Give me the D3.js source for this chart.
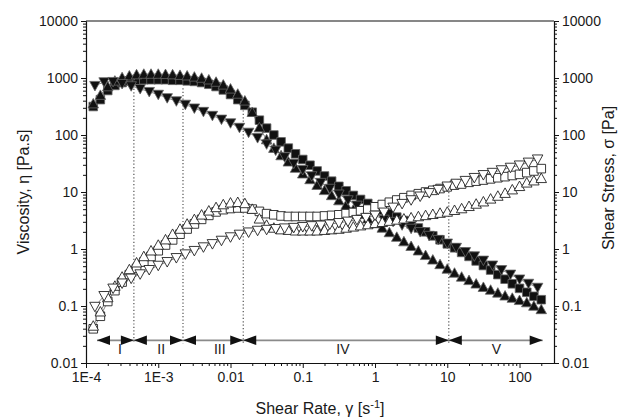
<!DOCTYPE html>
<html><head><meta charset="utf-8">
<script src="https://cdn.jsdelivr.net/npm/d3@7"></script>
<style>
body{margin:0;background:#fff}
svg{display:block}
text{font-family:"Liberation Sans",Arial,Helvetica,sans-serif;fill:#1a1a1a}
</style>
</head><body>
<svg id="chart" width="629" height="419"></svg>
<script>
// ---------- data ----------
const shearA = [1.26e-4,1.58e-4,2.00e-4,2.51e-4,3.16e-4,3.98e-4,5.01e-4,6.31e-4,7.94e-4,
  1e-3,1.26e-3,1.58e-3,2.00e-3,2.51e-3,3.16e-3,3.98e-3,5.01e-3,6.31e-3,7.94e-3,
  0.01,0.0126,0.0158,0.02,0.0251,0.0316,0.0398,0.0501,0.0631,0.0794,
  0.1,0.126,0.158,0.2,0.251,0.316,0.398,0.501,0.631,0.794,
  1,1.26,1.58,2,2.51,3.16,3.98,5.01,6.31,7.94,
  10,12.6,15.8,20,25.1,31.6,39.8,50.1,63.1,79.4,
  100,126,158,200];
const shearC = [1.33e-4,1.78e-4,2.37e-4,3.16e-4,4.22e-4,5.62e-4,7.50e-4,
  1e-3,1.33e-3,1.78e-3,2.37e-3,3.16e-3,4.22e-3,5.62e-3,7.50e-3,
  0.01,0.0133,0.0178,0.0237,0.0316,0.0422,0.0562,0.075,
  0.1,0.133,0.178,0.237,0.316,0.422,0.562,0.75,
  1,1.33,1.78,2.37,3.16,4.22,5.62,7.5,
  10,13.3,17.8,23.7,31.6,42.2,56.2,75,
  100,133,178];

// viscosity (filled) and shear stress (open) for the three samples
const viscSquare = [316,417,603,741,832,891,912,933,933,
  933,933,912,912,891,871,832,776,708,617,
  513,417,331,251,182,132,100,75.9,58.9,46.8,
  37.2,29.5,23.4,19.1,15.5,12.6,10.5,8.71,7.41,6.31,
  5.50,4.79,4.17,3.63,3.16,2.75,2.34,2.00,1.70,1.45,
  1.23,1.05,0.871,0.741,0.617,0.513,0.427,0.355,0.295,0.245,
  0.204,0.174,0.148,0.129];
const stressSquare = [0.0398,0.0661,0.120,0.186,0.263,0.355,0.457,0.589,0.741,
  0.933,1.175,1.445,1.82,2.24,2.75,3.31,3.89,4.47,4.90,
  5.13,5.25,5.25,5.01,4.57,4.17,3.98,3.80,3.72,3.72,
  3.72,3.72,3.72,3.80,3.89,3.98,4.17,4.37,4.68,5.01,
  5.50,6.03,6.61,7.24,7.94,8.71,9.33,10.0,10.7,11.5,
  12.3,13.2,13.8,14.8,15.5,16.2,17.0,17.8,18.6,19.5,
  20.4,21.9,23.4,25.7];
const viscTriUp = [355,501,708,891,1023,1096,1148,1175,1175,
  1175,1161,1148,1122,1096,1047,1000,933,851,759,
  646,525,398,251,135,83.2,58.9,43.7,33.9,26.3,
  20.9,16.6,13.2,10.7,8.71,7.08,5.89,4.90,4.07,3.39,
  2.82,2.34,1.95,1.62,1.35,1.12,0.933,0.776,0.646,0.537,
  0.447,0.380,0.324,0.282,0.245,0.214,0.191,0.170,0.151,0.138,
  0.126,0.115,0.100,0.0871];
const stressTriUp = [0.0447,0.0794,0.141,0.224,0.324,0.437,0.575,0.741,0.933,
  1.175,1.46,1.82,2.24,2.75,3.31,3.98,4.68,5.37,6.03,
  6.46,6.61,6.31,5.01,3.39,2.63,2.34,2.19,2.14,2.09,
  2.09,2.09,2.09,2.14,2.19,2.24,2.34,2.45,2.57,2.69,
  2.82,2.95,3.09,3.24,3.39,3.55,3.72,3.89,4.07,4.27,
  4.47,4.79,5.13,5.62,6.17,6.76,7.59,8.51,9.55,11.0,
  12.6,14.5,15.8,17.4];
const viscTriDown = [733,851,861,794,724,646,575,
  513,447,394,343,295,257,219,188,
  162,135,111,89.1,69.2,53.7,41.2,31.6,
  24.5,19.1,14.6,11.5,9.12,7.24,5.82,4.73,
  3.89,3.30,3.02,2.63,2.29,2.00,1.72,1.46,
  1.26,1.06,0.891,0.750,0.631,0.519,0.431,0.359,
  0.295,0.248,0.211];
const stressTriDown = [0.0977,0.151,0.204,0.251,0.305,0.363,0.432,
  0.513,0.596,0.700,0.813,0.933,1.08,1.23,1.41,
  1.62,1.80,1.97,2.11,2.19,2.26,2.32,2.37,
  2.45,2.54,2.60,2.72,2.88,3.05,3.27,3.55,
  3.89,4.40,5.37,6.24,7.24,8.41,9.66,11.0,
  12.6,14.1,15.8,17.8,20.0,21.9,24.3,26.9,
  29.5,33.1,37.6];

// flow regions
const regionBounds = [4.6e-4, 2.2e-3, 0.015, 10.5];
const regionGuideTop = [850, 660, 310, 10];
const regionLabels = ["I","II","III","IV","V"];
const regionLabelAt = [2.95e-4, 1.1e-3, 7.1e-3, 0.36, 48];
const regionSpan = [1.42e-4, 209];

// axes
const xTicks = [1e-4,1e-3,0.01,0.1,1,10,100];
const xTickLabels = ["1E-4","1E-3","0.01","0.1","1","10","100"];
const yTicks = [0.01,0.1,1,10,100,1000,10000];
const yTickLabels = ["0.01","0.1","1","10","100","1000","10000"];

// ---------- drawing ----------
const svg = d3.select("#chart");
const L = 86, R = 554, T = 21, B = 363;
const x = d3.scaleLog().domain([1e-4, 300]).range([L, R]);
const y = d3.scaleLog().domain([0.01, 10000]).range([B, T]);

function minors(lo, hi){
  const out=[];
  for(let e=Math.floor(Math.log10(lo)); e<=Math.ceil(Math.log10(hi)); e++)
    for(let m=2;m<=9;m++){const v=m*Math.pow(10,e); if(v>lo*1.0001 && v<hi*0.9999) out.push(v);}
  return out;
}
const FS = 14;
function styleAxis(g){
  g.select(".domain").attr("stroke","#111").attr("stroke-width",1.1);
  g.selectAll(".tick line").attr("stroke","#111").attr("stroke-width",1);
  g.selectAll(".tick text").style("font-size",FS+"px").attr("fill","#1a1a1a");
}
// bottom
svg.append("g").attr("transform",`translate(0,${B})`)
  .call(d3.axisBottom(x).tickValues(minors(1e-4,300)).tickFormat("").tickSize(3).tickSizeOuter(0)).call(styleAxis);
svg.append("g").attr("transform",`translate(0,${B})`)
  .call(d3.axisBottom(x).tickValues(xTicks).tickFormat((d,i)=>xTickLabels[i]).tickSize(5).tickSizeOuter(0).tickPadding(4)).call(styleAxis);
// left
svg.append("g").attr("transform",`translate(${L},0)`)
  .call(d3.axisLeft(y).tickValues(minors(0.01,10000)).tickFormat("").tickSize(3).tickSizeOuter(0)).call(styleAxis);
svg.append("g").attr("transform",`translate(${L},0)`)
  .call(d3.axisLeft(y).tickValues(yTicks).tickFormat((d,i)=>yTickLabels[i]).tickSize(5).tickSizeOuter(0).tickPadding(3)).call(styleAxis);
// right
svg.append("g").attr("transform",`translate(${R},0)`)
  .call(d3.axisRight(y).tickValues(minors(0.01,10000)).tickFormat("").tickSize(3).tickSizeOuter(0)).call(styleAxis);
svg.append("g").attr("transform",`translate(${R},0)`)
  .call(d3.axisRight(y).tickValues(yTicks).tickFormat((d,i)=>yTickLabels[i]).tickSize(5).tickSizeOuter(0).tickPadding(3)).call(styleAxis);
// top border
svg.append("line").attr("x1",L).attr("x2",R).attr("y1",T).attr("y2",T).attr("stroke","#111").attr("stroke-width",1.1);

// axis titles
svg.append("text").attr("transform",`translate(29,${(T+B)/2}) rotate(-90)`)
  .attr("text-anchor","middle").style("font-size","16px").text("Viscosity, η [Pa.s]");
svg.append("text").attr("transform",`translate(614,${(T+B)/2 - 14}) rotate(-90)`)
  .attr("text-anchor","middle").style("font-size","16px").text("Shear Stress, σ [Pa]");
const xt = svg.append("text").attr("x",(L+R)/2).attr("y",414).attr("text-anchor","middle").style("font-size","16px");
xt.append("tspan").text("Shear Rate, γ [s");
xt.append("tspan").attr("dy",-6).style("font-size","11px").text("-1");
xt.append("tspan").attr("dy",6).text("]");

// region guides (dotted)
const lo = 0.022;
svg.append("g").selectAll("line").data(regionBounds).join("line")
  .attr("x1",d=>x(d)).attr("x2",d=>x(d))
  .attr("y1",(d,i)=>y(regionGuideTop[i])).attr("y2",y(lo))
  .attr("stroke","#444").attr("stroke-width",1.1).attr("stroke-dasharray","1.2,2.2");

// region arrow line
const ay = y(0.025);
svg.append("line").attr("x1",x(regionSpan[0])).attr("x2",x(regionSpan[1]))
  .attr("y1",ay).attr("y2",ay).attr("stroke","#8a8a8a").attr("stroke-width",1.7);
const aw = 13, ah = 4.8;
function arrowHead(tipX, dir){ // dir -1 points left, +1 points right
  return `M${tipX},${ay} L${tipX-dir*aw},${ay-ah} L${tipX-dir*aw},${ay+ah} Z`;
}
const heads = [arrowHead(x(regionSpan[0]),-1), arrowHead(x(regionSpan[1]),1)];
regionBounds.forEach(b=>{heads.push(arrowHead(x(b),1)); heads.push(arrowHead(x(b),-1));});
svg.append("g").selectAll("path").data(heads).join("path").attr("d",d=>d).attr("fill","#111");
svg.append("g").selectAll("text").data(regionLabels).join("text")
  .attr("x",(d,i)=>x(regionLabelAt[i])).attr("y",y(0.025)+13.5)
  .attr("text-anchor","middle").style("font-size","14px").text(d=>d);

// ---------- series ----------
function tri(w,h,down){
  const s = down?-1:1;
  return `M0,${-s*h*0.55} L${w/2},${s*h*0.45} L${-w/2},${s*h*0.45} Z`;
}
const shapes = {
  square: "M-4.3,-4.3 H4.3 V4.3 H-4.3 Z",
  up: tri(10.5,9.5,false),
  down: tri(10.5,9.5,true)
};
const series = [
  {xs:shearA, ys:viscSquare, shape:"square", filled:true},
  {xs:shearA, ys:viscTriUp, shape:"up", filled:true},
  {xs:shearC, ys:viscTriDown, shape:"down", filled:true},
  {xs:shearA, ys:stressSquare, shape:"square", filled:false},
  {xs:shearA, ys:stressTriUp, shape:"up", filled:false},
  {xs:shearC, ys:stressTriDown, shape:"down", filled:false}
];
const line = d3.line().x(d=>x(d[0])).y(d=>y(d[1]));
series.forEach(s=>{
  const pts = s.xs.map((v,i)=>[v,s.ys[i]]);
  svg.append("path").attr("d",line(pts)).attr("fill","none").attr("stroke","#555").attr("stroke-width",0.7);
});
series.forEach(s=>{
  const pts = s.xs.map((v,i)=>[v,s.ys[i]]);
  svg.append("g").selectAll("path").data(pts).join("path")
    .attr("transform",d=>`translate(${x(d[0])},${y(d[1])})`)
    .attr("d",shapes[s.shape])
    .attr("fill",s.filled?"#111":"#fff")
    .attr("stroke",s.filled?"#666":"#222")
    .attr("stroke-width",s.filled?0.8:0.9);
});
</script>
</body></html>
